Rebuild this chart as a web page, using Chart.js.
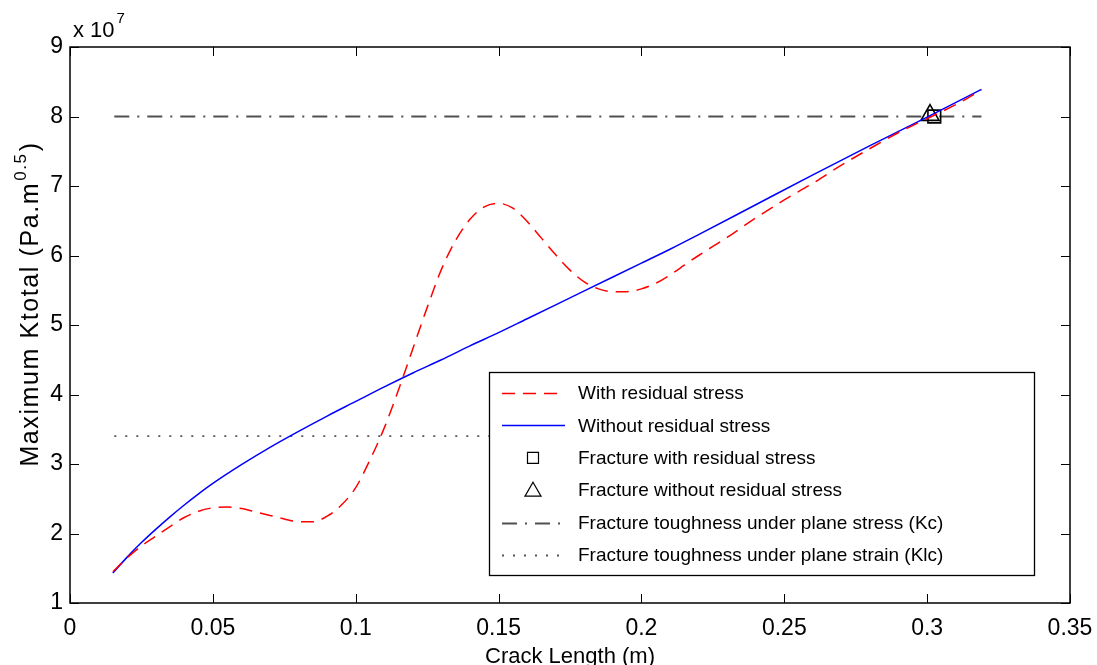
<!DOCTYPE html>
<html>
<head>
<meta charset="utf-8">
<script src="https://cdn.jsdelivr.net/npm/chart.js@4/dist/chart.umd.min.js"></script>
<style>
  html, body { margin: 0; padding: 0; background: #fff; }
</style>
</head>
<body>
<canvas id="chartK" width="1097" height="665"></canvas>
<script>
// all K values in units of 1e7 Pa.m^0.5
const withResX = [0.015, 0.02, 0.025, 0.03, 0.035, 0.04, 0.045, 0.05, 0.055, 0.06, 0.065, 0.07, 0.075, 0.08, 0.085, 0.09, 0.095,
  0.1, 0.105, 0.11, 0.115, 0.12, 0.125, 0.13, 0.135, 0.14, 0.145, 0.15, 0.155, 0.16, 0.165, 0.17, 0.175, 0.18, 0.185, 0.19, 0.195,
  0.2, 0.205, 0.21, 0.215, 0.22, 0.23, 0.24, 0.25, 0.26, 0.27, 0.28, 0.29, 0.3, 0.31, 0.319];
const withResY = [1.45, 1.65, 1.82, 1.96, 2.1, 2.23, 2.32, 2.37, 2.38, 2.36, 2.31, 2.26, 2.21, 2.17, 2.17, 2.25, 2.41,
  2.66, 3.06, 3.52, 4.07, 4.66, 5.25, 5.8, 6.22, 6.52, 6.7, 6.75, 6.68, 6.49, 6.25, 6.01, 5.79, 5.62, 5.52, 5.48, 5.48,
  5.52, 5.6, 5.72, 5.86, 6.0, 6.26, 6.54, 6.8, 7.04, 7.3, 7.54, 7.77, 7.97, 8.17, 8.38];

const noResX = [0.015, 0.02, 0.025, 0.03, 0.035, 0.04, 0.045, 0.05, 0.06, 0.07, 0.08, 0.09, 0.1, 0.11, 0.12, 0.13, 0.14,
  0.15, 0.16, 0.17, 0.18, 0.19, 0.2, 0.21, 0.22, 0.24, 0.26, 0.28, 0.3, 0.319];
const noResY = [1.43, 1.66, 1.87, 2.06, 2.24, 2.41, 2.57, 2.72, 2.99, 3.24, 3.47, 3.69, 3.9, 4.11, 4.31, 4.5, 4.7,
  4.89, 5.09, 5.29, 5.49, 5.69, 5.89, 6.09, 6.3, 6.73, 7.16, 7.58, 7.99, 8.39];

const fractureWith = [{ x: 0.3025, y: 8.0 }];
const fractureWithout = [{ x: 0.301, y: 8.02 }];

const kcValue = 8.0;    // plane stress
const klcValue = 3.4;   // plane strain
const refLineX = [0.0155, 0.319];

const xTicks = [0, 0.05, 0.1, 0.15, 0.2, 0.25, 0.3, 0.35];
const yTicks = [1, 2, 3, 4, 5, 6, 7, 8, 9];

const seriesLabels = [
  'With residual stress',
  'Without residual stress',
  'Fracture with residual stress',
  'Fracture without residual stress',
  'Fracture toughness under plane stress (Kc)',
  'Fracture toughness under plane strain (Klc)'
];

const FONT = 'Liberation Sans, Arial, Helvetica, sans-serif';

const pts = (xs, ys) => xs.map((x, i) => ({ x: x, y: ys[i] }));
const flat = v => refLineX.map(x => ({ x: x, y: v }));

const matlabFrame = {
  id: 'matlabFrame',
  afterDraw(chart) {
    const c = chart.ctx;
    const a = chart.chartArea;
    const xs = chart.scales.x, ys = chart.scales.y;
    c.save();
    // box
    c.strokeStyle = '#000';
    c.lineWidth = 1.5;
    c.strokeRect(a.left, a.top, a.right - a.left, a.bottom - a.top);
    // inward ticks on all sides
    c.lineWidth = 1;
    c.beginPath();
    xTicks.forEach(v => {
      const px = Math.round(xs.getPixelForValue(v)) + 0.5;
      c.moveTo(px, a.bottom); c.lineTo(px, a.bottom - 9);
      c.moveTo(px, a.top); c.lineTo(px, a.top + 9);
    });
    yTicks.forEach(v => {
      const py = Math.round(ys.getPixelForValue(v)) + 0.5;
      c.moveTo(a.left, py); c.lineTo(a.left + 9, py);
      c.moveTo(a.right, py); c.lineTo(a.right - 9, py);
    });
    c.stroke();

    c.fillStyle = '#000';
    // exponent label
    c.textBaseline = 'alphabetic';
    c.textAlign = 'left';
    c.font = '22px ' + FONT;
    c.fillText('x 10', 73, 37);
    const w10 = c.measureText('x 10').width;
    c.font = '15px ' + FONT;
    c.fillText('7', 73 + w10 + 2, 23);

    // x title
    c.font = '22px ' + FONT;
    c.textAlign = 'center';
    c.fillText('Crack Length (m)', (a.left + a.right) / 2, 663);

    // y title with superscript
    c.save();
    c.translate(38, 304);
    c.rotate(-Math.PI / 2);
    c.textAlign = 'left';
    c.letterSpacing = '1.6px';
    c.font = '25px ' + FONT;
    const p1 = 'Maximum Ktotal (Pa.m', sup = '0.5', p2 = ')';
    const w1 = c.measureText(p1).width, w3 = c.measureText(p2).width;
    c.font = '17px ' + FONT;
    const w2 = c.measureText(sup).width;
    let x0 = -(w1 + w2 + w3 + 2) / 2;
    c.font = '25px ' + FONT;
    c.fillText(p1, x0, 0);
    c.font = '17px ' + FONT;
    c.fillText(sup, x0 + w1 + 1, -12);
    c.font = '25px ' + FONT;
    c.fillText(p2, x0 + w1 + w2 + 2, 0);
    c.restore();

    // legend box
    const lx = 489, ly = 372, lw = 545, lh = 203;
    c.fillStyle = '#fff';
    c.fillRect(lx, ly, lw, lh);
    c.strokeStyle = '#000';
    c.lineWidth = 1.3;
    c.strokeRect(lx + 0.5, ly + 0.5, lw, lh);
    c.font = '19px ' + FONT;
    c.textAlign = 'left';
    c.textBaseline = 'middle';
    chart.data.datasets.forEach((ds, i) => {
      const ry = 393 + i * 32.4;
      c.save();
      if (ds.showLine === false) {
        c.strokeStyle = '#000';
        c.lineWidth = 1.2;
        c.beginPath();
        if (ds.pointStyle === 'rect') {
          c.rect(527.5, ry - 5.5, 11, 11);
        } else {
          c.moveTo(533, ry - 8); c.lineTo(541, ry + 6); c.lineTo(525, ry + 6); c.closePath();
        }
        c.stroke();
      } else {
        c.strokeStyle = ds.borderColor;
        c.lineWidth = ds.borderWidth;
        c.setLineDash(ds.borderDash || []);
        c.beginPath();
        c.moveTo(502, Math.round(ry) + 0.5); c.lineTo(565, Math.round(ry) + 0.5);
        c.stroke();
      }
      c.restore();
      c.fillStyle = '#000';
      c.fillText(ds.label, 578, ry + 1);
    });
    c.restore();
  }
};

new Chart(document.getElementById('chartK'), {
  type: 'line',
  data: {
    datasets: [
      { label: seriesLabels[0], data: pts(withResX, withResY), borderColor: '#ff0000', borderWidth: 1.5,
        borderDash: [13, 8], pointRadius: 0, cubicInterpolationMode: 'monotone', fill: false },
      { label: seriesLabels[1], data: pts(noResX, noResY), borderColor: '#0000ff', borderWidth: 1.5,
        pointRadius: 0, cubicInterpolationMode: 'monotone', fill: false },
      { label: seriesLabels[2], data: fractureWith, showLine: false, pointStyle: 'rect', pointRadius: 9,
        pointBorderColor: '#000', pointBackgroundColor: 'rgba(0,0,0,0)', pointBorderWidth: 1.6, borderColor: '#000' },
      { label: seriesLabels[3], data: fractureWithout, showLine: false, pointStyle: 'triangle', pointRadius: 10.5,
        pointBorderColor: '#000', pointBackgroundColor: 'rgba(0,0,0,0)', pointBorderWidth: 1.6, borderColor: '#000' },
      { label: seriesLabels[4], data: flat(kcValue), borderColor: '#505050', borderWidth: 2,
        borderDash: [15, 8, 2, 8], pointRadius: 0, fill: false },
      { label: seriesLabels[5], data: flat(klcValue), borderColor: '#555', borderWidth: 1.8,
        borderDash: [2, 9], pointRadius: 0, fill: false }
    ]
  },
  options: {
    responsive: false,
    animation: false,
    devicePixelRatio: 1,
    layout: { autoPadding: false, padding: { top: 47, right: 27, left: 0, bottom: 0 } },
    plugins: { legend: { display: false }, tooltip: { enabled: false } },
    scales: {
      x: {
        type: 'linear', min: 0, max: 0.35, offset: false,
        afterBuildTicks: s => { s.ticks = xTicks.map(v => ({ value: v })); },
        afterFit: s => { s.height = 62; s.paddingLeft = 0; s.paddingRight = 0; },
        grid: { display: false, drawTicks: false },
        border: { display: false },
        ticks: { color: '#000', font: { family: FONT, size: 23 }, padding: 12, maxRotation: 0, autoSkip: false,
          callback: v => String(+v.toFixed(2)) }
      },
      y: {
        type: 'linear', min: 1, max: 9,
        afterBuildTicks: s => { s.ticks = yTicks.map(v => ({ value: v })); },
        afterFit: s => { s.width = 70; s.paddingTop = 0; s.paddingBottom = 0; },
        grid: { display: false, drawTicks: false },
        border: { display: false },
        ticks: { color: '#000', font: { family: FONT, size: 23 }, padding: 7, autoSkip: false }
      }
    }
  },
  plugins: [matlabFrame]
});
</script>
</body>
</html>
